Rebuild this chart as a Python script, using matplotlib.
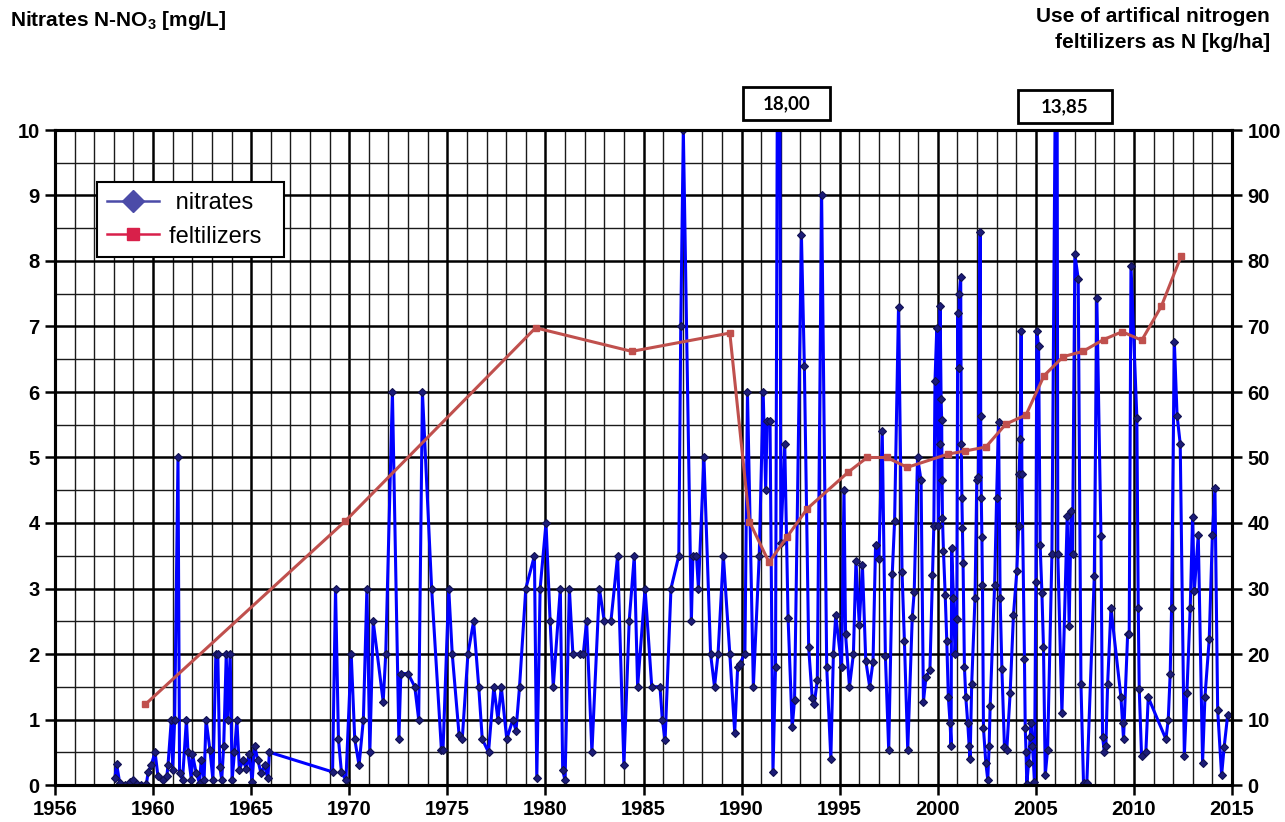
import matplotlib
matplotlib.use("Agg")
import matplotlib.pyplot as plt
from matplotlib.lines import Line2D
from matplotlib.patches import Rectangle
from matplotlib.ticker import MultipleLocator, FixedLocator

plt.rcParams['font.family'] = ['Liberation Sans', 'DejaVu Sans']
plt.rcParams['mathtext.fontset'] = 'custom'
plt.rcParams['mathtext.bf'] = 'Liberation Sans:bold'
plt.rcParams['mathtext.rm'] = 'Liberation Sans:bold'

# ─── data ──────────────────────────────────────────────────────────────
nitrate_years = [
    1958.05, 1958.14, 1958.3, 1958.56, 1958.8, 1959.0, 1959.2, 1959.4, 1959.66, 1959.75,
    1959.9, 1960.1, 1960.25, 1960.5, 1960.7, 1960.76, 1960.93, 1961.0, 1961.1, 1961.27,
    1961.35, 1961.5, 1961.7, 1961.78, 1961.95, 1962.0, 1962.2, 1962.37, 1962.45, 1962.6,
    1962.7, 1962.9, 1963.05, 1963.2, 1963.3, 1963.4, 1963.5, 1963.6, 1963.73, 1963.8,
    1963.93, 1964.03, 1964.15, 1964.27, 1964.4, 1964.58, 1964.75, 1964.9, 1965.05, 1965.17,
    1965.34, 1965.5, 1965.68, 1965.85, 1965.93,
    1969.15, 1969.3, 1969.45, 1969.6, 1969.83, 1970.1, 1970.28, 1970.5, 1970.72, 1970.9,
    1971.05, 1971.22, 1971.73, 1971.86, 1972.2, 1972.53, 1972.63, 1973.0, 1973.34, 1973.54,
    1973.73, 1974.2, 1974.7, 1974.78, 1975.07, 1975.25, 1975.6, 1975.76, 1976.05, 1976.34,
    1976.6, 1976.78, 1977.1, 1977.37, 1977.58, 1977.75, 1978.03, 1978.34, 1978.5, 1978.68,
    1979.0, 1979.44, 1979.56, 1979.73, 1980.03, 1980.24, 1980.4, 1980.76, 1980.88, 1981.0,
    1981.22, 1981.4, 1981.76, 1981.93, 1982.1, 1982.37, 1982.75, 1983.0, 1983.34, 1983.68,
    1984.0, 1984.27, 1984.53, 1984.7, 1985.08,
    1985.42, 1985.84, 1985.96, 1986.1, 1986.4, 1986.8, 1986.9, 1987.03, 1987.44, 1987.52,
    1987.7, 1987.8, 1988.08, 1988.42, 1988.62, 1988.8, 1989.07, 1989.4, 1989.65, 1989.8,
    1989.9, 1990.17, 1990.3, 1990.6, 1990.9, 1991.1, 1991.23, 1991.3, 1991.45, 1991.6,
    1991.73, 1991.9, 1992.0, 1992.2, 1992.37, 1992.58, 1992.7, 1993.05, 1993.2, 1993.42,
    1993.6, 1993.7, 1993.86, 1994.08, 1994.34, 1994.55, 1994.68, 1994.8, 1995.1, 1995.22,
    1995.3, 1995.5, 1995.7, 1995.83, 1996.0, 1996.16, 1996.33, 1996.53, 1996.7, 1996.83,
    1997.0, 1997.17, 1997.33, 1997.5, 1997.68, 1997.8, 1998.0, 1998.18, 1998.3, 1998.47,
    1998.7, 1998.8, 1998.97, 1999.15, 1999.27, 1999.4, 1999.6, 1999.73, 1999.8,
    1999.86, 1999.95, 2000.03, 2000.1, 2000.12, 2000.17, 2000.2, 2000.22, 2000.24, 2000.29,
    2000.38, 2000.46, 2000.54, 2000.63, 2000.68, 2000.71, 2000.8, 2000.88, 2000.97, 2001.02,
    2001.07, 2001.1, 2001.17, 2001.2, 2001.23, 2001.26, 2001.29, 2001.36, 2001.43, 2001.53,
    2001.6, 2001.65, 2001.73, 2001.9, 2001.99, 2002.07, 2002.16, 2002.19, 2002.22, 2002.25,
    2002.28, 2002.33, 2002.45, 2002.55, 2002.62, 2002.67, 2002.9, 2003.0, 2003.1, 2003.18,
    2003.27, 2003.4, 2003.52, 2003.69, 2003.86, 2004.03, 2004.12, 2004.15, 2004.2, 2004.25,
    2004.29, 2004.42, 2004.46, 2004.5, 2004.54, 2004.63, 2004.71, 2004.76, 2004.83, 2004.93,
    2005.0, 2005.05, 2005.14, 2005.22, 2005.31, 2005.39, 2005.48, 2005.6, 2005.82, 2006.07,
    2006.12, 2006.33, 2006.6, 2006.7, 2006.8, 2006.87, 2006.99, 2007.16, 2007.3, 2007.43,
    2007.6, 2007.98, 2008.11, 2008.32, 2008.4, 2008.49, 2008.57, 2008.66, 2008.83, 2009.34,
    2009.42, 2009.47, 2009.68, 2009.76, 2009.85, 2010.15, 2010.22, 2010.27, 2010.39, 2010.61,
    2010.73, 2011.63, 2011.75, 2011.85, 2011.92, 2012.06, 2012.2, 2012.36, 2012.57, 2012.7,
    2012.87, 2012.99, 2013.08, 2013.28, 2013.5, 2013.62, 2013.84, 2014.0, 2014.13, 2014.27,
    2014.47, 2014.6, 2014.78,
]
nitrate_values = [
    0.1, 0.32, 0.03, 0.0, 0.04, 0.08, 0.02, 0.0, 0.02, 0.2,
    0.3, 0.5, 0.13, 0.08, 0.13, 0.3, 1.0, 0.23, 1.0, 5.0,
    0.18, 0.08, 1.0, 0.5, 0.08, 0.48, 0.18, 0.03, 0.38, 0.08,
    1.0, 0.53, 0.08, 2.0, 2.0, 0.28, 0.08, 0.6, 2.0, 1.0,
    2.0, 0.08, 0.5, 1.0, 0.23, 0.38, 0.25, 0.48, 0.05, 0.6,
    0.38, 0.18, 0.3, 0.1, 0.5,
    0.2, 3.0, 0.7, 0.2, 0.07, 2.0, 0.7, 0.3, 1.0, 3.0,
    0.5, 2.5, 1.27, 2.0, 6.0, 0.7, 1.7, 1.7, 1.5, 1.0,
    6.0, 3.0, 0.53, 0.53, 3.0, 2.0, 0.76, 0.7, 2.0, 2.5,
    1.5, 0.7, 0.5, 1.5, 1.0, 1.5, 0.7, 1.0, 0.83, 1.5,
    3.0, 3.5, 0.1, 3.0, 4.0, 2.5, 1.5, 3.0, 0.23, 0.07,
    3.0, 2.0, 2.0, 2.0, 2.5, 0.5, 3.0, 2.5, 2.5, 3.5,
    0.3, 2.5, 3.5, 1.5, 3.0,
    1.5, 1.5, 1.0, 0.68, 3.0, 3.5, 7.0, 10.0, 2.5, 3.5,
    3.5, 3.0, 5.0, 2.0, 1.5, 2.0, 3.5, 2.0, 0.8, 1.8,
    1.85, 2.0, 6.0, 1.5, 3.5, 6.0, 4.5, 5.55, 5.55, 0.2,
    1.8, 18.0, 3.7, 5.2, 2.55, 0.88, 1.3, 8.4, 6.4, 2.1,
    1.33, 1.23, 1.6, 9.0, 1.8, 0.4, 2.0, 2.6, 1.8, 4.5,
    2.3, 1.5, 2.0, 3.42, 2.45, 3.36, 1.9, 1.5, 1.88, 3.67,
    3.45, 5.4, 1.97, 0.53, 3.22, 4.03, 7.3, 3.25, 2.2, 0.53,
    2.56, 2.95, 5.0, 4.65, 1.27, 1.65, 1.75, 3.2, 3.95,
    6.17, 6.97, 3.95, 5.2, 7.31, 5.9, 5.58, 4.65, 4.08, 3.58,
    2.9, 2.2, 1.34, 0.94, 0.6, 3.62, 2.86, 2.0, 2.53, 7.2,
    6.37, 7.5, 7.76, 5.2, 4.38, 3.92, 3.39, 1.8, 1.34, 0.94,
    0.6, 0.4, 1.54, 2.86, 4.65, 4.7, 8.45, 5.64, 4.38, 3.79,
    3.06, 0.87, 0.34, 0.08, 0.6, 1.2, 3.06, 4.38, 5.54, 2.86,
    1.77, 0.58, 0.54, 1.4, 2.6, 3.26, 3.95, 4.75, 5.28, 6.93,
    4.75, 1.93, 0.87, 0.51, 0.01, 0.34, 0.74, 0.94, 0.6, 0.05,
    3.1, 6.93, 6.7, 3.66, 2.93, 2.1, 0.15, 0.54, 3.52, 13.85,
    3.52, 1.1, 4.1, 2.43, 4.18, 3.52, 8.1, 7.73, 1.54, 0.03,
    0.03, 3.19, 7.43, 3.8, 0.74, 0.51, 0.6, 1.54, 2.7, 1.34,
    0.94, 0.7, 2.3, 2.3, 7.93, 5.61, 2.7, 1.47, 0.44, 0.51,
    1.34, 0.7, 1.0, 1.7, 2.7, 6.77, 5.64, 5.21, 0.44, 1.4,
    2.7, 4.09, 2.96, 3.82, 0.34, 1.34, 2.23, 3.82, 4.53, 1.14,
    0.15, 0.58, 1.07,
]

fert_years = [1959.6, 1969.8, 1979.5, 1984.4, 1989.4, 1990.4, 1991.4, 1992.3, 1993.35,
              1995.45, 1996.4, 1997.4, 1998.45, 2000.5, 2001.4, 2002.45, 2003.47, 2004.5,
              2005.42, 2006.4, 2007.4, 2008.45, 2009.4, 2010.4, 2011.4, 2012.4]
fert_values = [12.3, 40.3, 69.8, 66.2, 69.0, 40.2, 34.0, 37.8, 42.2,
               47.8, 50.0, 50.0, 48.5, 50.5, 51.0, 51.6, 55.1, 56.5,
               62.5, 65.4, 66.2, 68.0, 69.2, 67.9, 73.1, 80.7]

x_ticks = [1955, 1960, 1965, 1970, 1975, 1980, 1985, 1990, 1995, 2000, 2005, 2010, 2015]
x_labels = ["1956", "1960", "1965", "1970", "1975", "1980", "1985", "1990",
            "1995", "2000", "2005", "2010", "2015"]
offscale_labels = ["18,00", "13,85"]

# ─── figure ────────────────────────────────────────────────────────────
W, H = 1285, 822
fig = plt.figure(figsize=(W / 100, H / 100), dpi=100)
fig.subplots_adjust(left=55 / W, right=1232 / W, bottom=1 - 785 / H, top=1 - 130 / H)
ax = fig.add_subplot(111)
ax2 = ax.twinx()

ax.set_xlim(1955, 2015)
ax.set_ylim(0, 10)
ax2.set_ylim(0, 100)

ax.xaxis.set_major_locator(FixedLocator(x_ticks))
ax.set_xticklabels(x_labels)
ax.xaxis.set_minor_locator(MultipleLocator(1))
ax.yaxis.set_major_locator(MultipleLocator(1))
ax.yaxis.set_minor_locator(MultipleLocator(0.5))
ax2.yaxis.set_major_locator(MultipleLocator(10))
ax2.yaxis.set_minor_locator(MultipleLocator(5))

ax.grid(which='major', color='black', lw=1.8)
ax.grid(which='minor', color='#1a1a1a', lw=1.0)
ax.set_axisbelow(True)

for a in (ax, ax2):
    for sp in a.spines.values():
        sp.set_linewidth(2.2)
    a.tick_params(which='major', direction='out', length=7, width=1.8, pad=4, labelsize=14.5)
    a.tick_params(which='minor', length=0)
ax.tick_params(axis='x', which='major', pad=4)
for lab in ax.get_xticklabels() + ax.get_yticklabels() + ax2.get_yticklabels():
    lab.set_fontweight('bold')

# nitrates on the left axis, fertilizers on the right axis
ax.plot(nitrate_years, nitrate_values, color='#0000ff', lw=2.2,
        marker='D', ms=4.5, mfc='#1c1c78', mec='#101050', mew=0.8, zorder=3)
ax2.plot(fert_years, fert_values, color='#c0504d', lw=2.2,
         marker='s', ms=5, mfc='#c0504d', mec='#c0504d', zorder=4)

# legend
handles = [
    Line2D([], [], color='#4b4ba8', lw=1.8, marker='D', ms=11, mfc='#4b4ba8', mec='#4b4ba8'),
    Line2D([], [], color='#d8204a', lw=1.8, marker='s', ms=9, mfc='#d8204a', mec='#d8204a'),
]
leg = ax2.legend(handles, [' nitrates   ', 'feltilizers  '], loc='upper left',
                 bbox_to_anchor=(0.036, 0.92), fontsize=17, frameon=True,
                 fancybox=False, borderpad=0.4, handlelength=2.2, handletextpad=0.45,
                 labelspacing=0.5, borderaxespad=0)
leg.get_frame().set_edgecolor('black')
leg.get_frame().set_linewidth(1.5)
leg.get_frame().set_alpha(1)

# titles
fig.text(10 / W, 1 - 20 / H, r"Nitrates N-NO$_\mathbf{3}$ [mg/L]", fontsize=15,
         fontweight='bold', ha='left', va='center')
fig.text(1270 / W, 1 - 16 / H, "Use of artifical nitrogen", fontsize=15,
         fontweight='bold', ha='right', va='center')
fig.text(1270 / W, 1 - 43 / H, "feltilizers as N [kg/ha]", fontsize=15,
         fontweight='bold', ha='right', va='center')

# boxes for the off-scale peaks
for (x0, y0, bw, bh), txt in zip([(743, 87, 87, 33), (1018, 90, 94, 33)], offscale_labels):
    fig.add_artist(Rectangle((x0 / W, 1 - (y0 + bh) / H), bw / W, bh / H,
                             transform=fig.transFigure, fc='white', ec='black', lw=2))
    fig.text((x0 + bw / 2) / W, 1 - (y0 + bh / 2) / H, txt, fontsize=13.5,
             fontweight='bold', family=['Lato', 'DejaVu Sans'], ha='center', va='center')

fig.savefig("out.png", dpi=100)
